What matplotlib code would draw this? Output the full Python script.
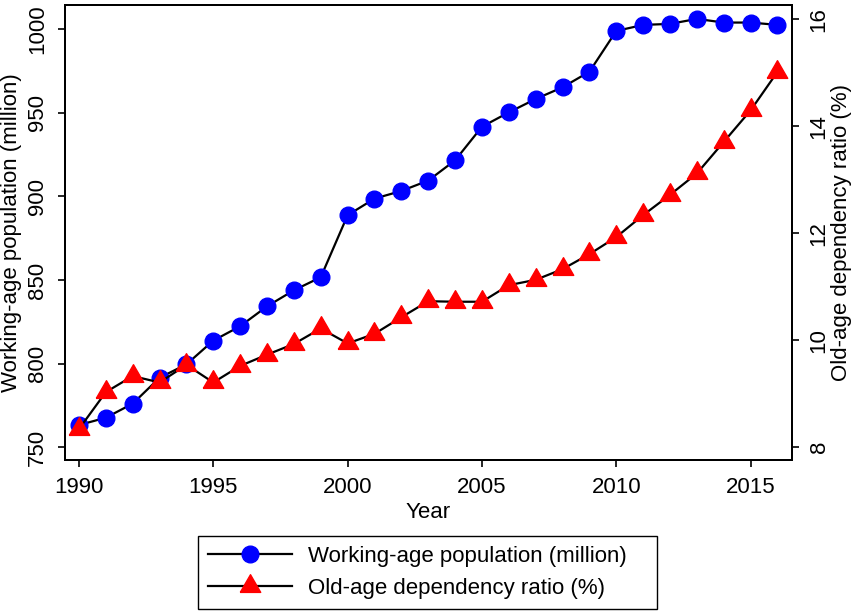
import matplotlib
matplotlib.use('Agg')
import matplotlib.pyplot as plt
import numpy as np

plt.rcParams['font.family'] = ['Liberation Sans', 'DejaVu Sans']

years = list(range(1990, 2017))

# working-age population (million), left axis
workingPop = [763.3, 767.7, 776.1, 791.6, 799.6, 813.8, 822.4, 834.3, 843.9, 851.7,
              888.8, 898.7, 903.3, 909.5, 921.6, 941.7, 950.3, 958.3, 965.3, 974.6,
              999.0, 1002.6, 1003.2, 1006.2, 1004.0, 1004.0, 1002.6]

# old-age dependency ratio (%), right axis
oldAgeRatio = [8.34, 9.03, 9.33, 9.21, 9.54, 9.21, 9.52, 9.73, 9.93, 10.22,
               9.94, 10.12, 10.43, 10.73, 10.72, 10.72, 11.03, 11.13, 11.33, 11.61,
               11.93, 12.34, 12.72, 13.12, 13.71, 14.30, 15.02]

leftTicks = [750, 800, 850, 900, 950, 1000]
rightTicks = [8, 10, 12, 14, 16]
xTicks = [1990, 1995, 2000, 2005, 2010, 2015]

labelPop = 'Working-age population (million)'
labelRatio = 'Old-age dependency ratio (%)'

# equilateral triangle centred on its centroid (like R pch 17)
tri = [(-1, -0.577), (1, -0.577), (0, 1.155), (-1, -0.577)]

fig = plt.figure(figsize=(8.54, 6.11), dpi=100)
ax = fig.add_axes([65/854, 1 - 460/611, (792 - 65)/854, (460 - 5)/611])

l1, = ax.plot(years, workingPop, color='black', linewidth=1.6,
              marker='o', markersize=12, markerfacecolor='blue',
              markeredgecolor='blue', label=labelPop)
ax.set_xlim(1989.48, 2016.54)
ax.set_ylim(742.4, 1014.5)
ax.set_xticks(xTicks)
ax.set_yticks(leftTicks)
ax.set_xlabel('Year', fontsize=16, labelpad=3)
ax.set_ylabel(labelPop, fontsize=16, labelpad=4)

ax2 = ax.twinx()
l2, = ax2.plot(years, oldAgeRatio, color='black', linewidth=1.6,
               marker=tri, markersize=17, markerfacecolor='red',
               markeredgecolor='red', label=labelRatio)
ax2.set_ylim(7.76, 16.27)
ax2.set_yticks(rightTicks)
ax2.set_ylabel(labelRatio, fontsize=16, labelpad=1)

for a in (ax, ax2):
    a.tick_params(direction='out', length=5, width=1.2, labelsize=16, pad=7)
    for s in a.spines.values():
        s.set_linewidth(1.4)

for t in ax.get_yticklabels():
    t.set_rotation(90)
    t.set_verticalalignment('center')
for t in ax2.get_yticklabels():
    t.set_rotation(90)
    t.set_verticalalignment('center')

# legend box below the plot, spanning the same width as the reference
leg = fig.legend(handles=[l1, l2], loc='center',
                 bbox_to_anchor=(198/854, 1 - 609/611, (657 - 198)/854, (609 - 536)/611),
                 mode='expand', fontsize=16, fancybox=False, edgecolor='black',
                 framealpha=1, handlelength=3.8, handletextpad=0.7,
                 labelspacing=0.5, borderpad=0.45, borderaxespad=0)
leg.get_frame().set_linewidth(1.0)

fig.savefig('out.png', dpi=100)
